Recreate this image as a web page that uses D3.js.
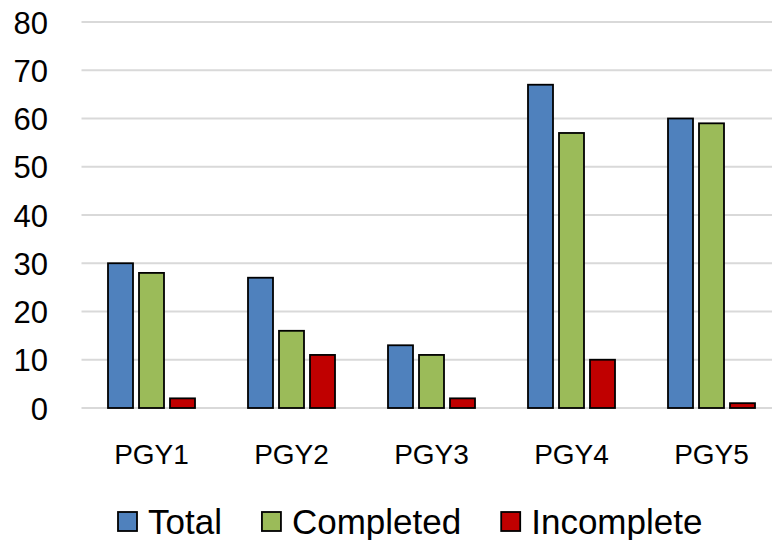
<!DOCTYPE html>
<html><head><meta charset="utf-8">
<script src="https://cdn.jsdelivr.net/npm/d3@7"></script>
<style>html,body{margin:0;padding:0;background:#fff;}svg{display:block;font-family:"Liberation Sans",Arial,sans-serif;}</style>
</head><body>
<svg id="c" width="772" height="540"></svg>
<script>
const categories = ["PGY1","PGY2","PGY3","PGY4","PGY5"];
const seriesNames = ["Total","Completed","Incomplete"];
const totalValues = [30,27,13,67,60];
const completedValues = [28,16,11,57,59];
const incompleteValues = [2,11,2,10,1];
const yTicks = [0,10,20,30,40,50,60,70,80];
const colors = ["#4f81bd","#9bbb59","#c00000"];

(function(){
const seriesValues = [totalValues, completedValues, incompleteValues];
const svg = d3.select("#c");
const pLeft = 81.5, pRight = 781.5, pTop = 22, pBottom = 408;

const x0 = d3.scaleBand().domain(categories).range([pLeft,pRight]).paddingInner(53/140).paddingOuter(53/280);
const x1 = d3.scaleBand().domain(seriesNames).range([0,x0.bandwidth()]).paddingInner(6/31).paddingOuter(0);
const y = d3.scaleLinear().domain([0,80]).range([pBottom,pTop]);

svg.append("g").selectAll("line").data(yTicks).join("line")
  .attr("x1",pLeft).attr("x2",772).attr("y1",d=>y(d)).attr("y2",d=>y(d))
  .attr("stroke","#d9d9d9").attr("stroke-width",2);

const yAxis = d3.axisLeft(y).tickValues(yTicks).tickSize(0).tickPadding(0);
const ga = svg.append("g").attr("transform","translate(48,0)").call(yAxis);
ga.select(".domain").remove();
ga.selectAll("text").attr("font-size",31).attr("fill","#000").attr("font-family","Liberation Sans, Arial, sans-serif").attr("dy","0.36em");

const groups = svg.append("g").selectAll("g").data(categories).join("g")
  .attr("transform",d=>`translate(${x0(d)},0)`);
groups.selectAll("rect").data((c,i)=>seriesNames.map((s,j)=>({s,v:seriesValues[j][i],j}))).join("rect")
  .attr("x",d=>x1(d.s)).attr("width",x1.bandwidth())
  .attr("y",d=>y(d.v)).attr("height",d=>y(0)-y(d.v))
  .attr("fill",d=>colors[d.j]).attr("stroke","#000").attr("stroke-width",1.8);

const xAxis = d3.axisBottom(x0).tickSize(0).tickPadding(0);
const gx = svg.append("g").attr("transform","translate(0,464)").call(xAxis);
gx.select(".domain").remove();
gx.selectAll("text").attr("font-size",28).attr("fill","#000").attr("font-family","Liberation Sans, Arial, sans-serif").attr("dy",0);

const lg = svg.append("g");
let lx = 118;
seriesNames.forEach((s,i)=>{
  lg.append("rect").attr("x",lx).attr("y",512).attr("width",19).attr("height",19)
    .attr("fill",colors[i]).attr("stroke","#000").attr("stroke-width",1.8);
  const t = lg.append("text").attr("x",lx+30).attr("y",534).attr("font-size",35).attr("fill","#000").text(s);
  lx = lx + 30 + t.node().getComputedTextLength() + 40;
});
})();
</script>
</body></html>
